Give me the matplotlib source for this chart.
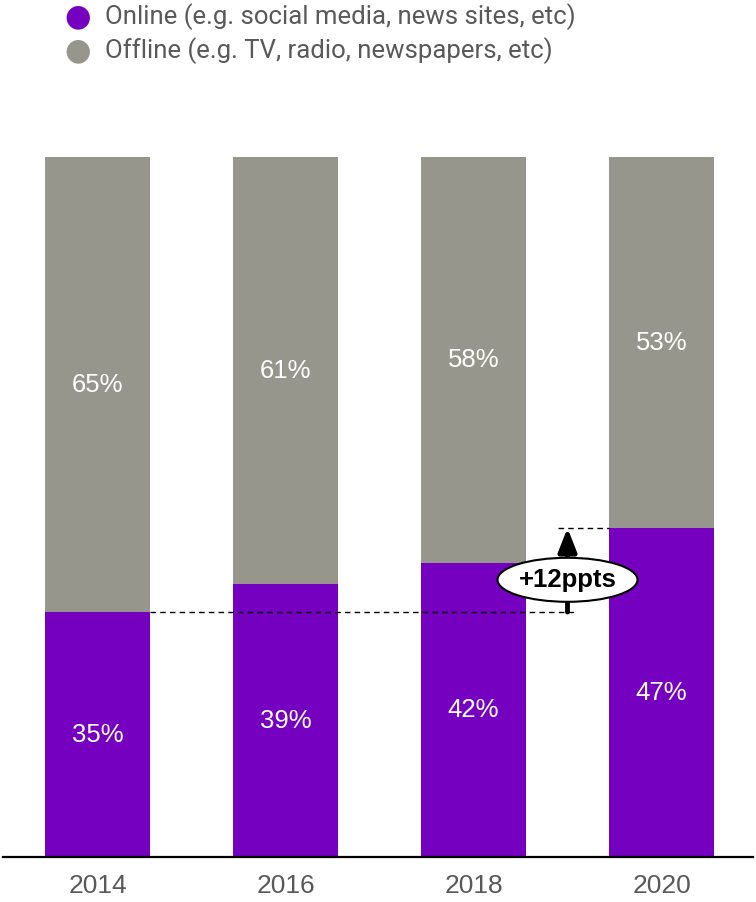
import matplotlib.pyplot as plt
from matplotlib.patches import Ellipse

years = ['2014', '2016', '2018', '2020']
online = [35, 39, 42, 47]
offline = [65, 61, 58, 53]
legend_labels = ['Online (e.g. social media, news sites, etc)',
                 'Offline (e.g. TV, radio, newspapers, etc)']

purple = '#7500C0'
grey = '#96968C'
text_grey = '#595959'

plt.rcParams['font.family'] = ['Liberation Sans', 'DejaVu Sans']

fig = plt.figure(figsize=(7.56, 9.02), dpi=100)
ax = fig.add_axes([3 / 756, 45 / 902, 750 / 756, 700 / 902])

x = list(range(len(years)))
w = 105 / 188
ax.bar(x, online, width=w, color=purple, zorder=2)
ax.bar(x, offline, width=w, bottom=online, color=grey, zorder=2)

for i in x:
    ax.text(i, online[i] / 2, f'{online[i]}%', ha='center', va='center',
            color='white', fontsize=18.5)
    ax.text(i, online[i] + offline[i] / 2, f'{offline[i]}%', ha='center',
            va='center', color='white', fontsize=18.5)

ax.set_xlim((3 - 97.5) / 188, (753 - 97.5) / 188)
ax.set_ylim(0, 100)
ax.set_xticks(x)
ax.set_xticklabels(years, fontsize=19, color=text_grey)
ax.tick_params(axis='x', length=0, pad=12)
ax.set_yticks([])
for s in ['top', 'left', 'right']:
    ax.spines[s].set_visible(False)
ax.spines['bottom'].set_linewidth(1.6)
ax.spines['bottom'].set_color('black')

# change between first and last year
mid = 2.5
ax.plot([w / 2, 2.54], [online[0], online[0]], ls='--', color='black',
        lw=1, dashes=(4, 3), zorder=3)
ax.plot([2.449, 3 - w / 2], [online[-1], online[-1]], ls='--', color='black',
        lw=1, dashes=(4, 3), zorder=3)
ax.annotate('', xy=(mid, online[-1]), xytext=(mid, online[0]),
            arrowprops=dict(arrowstyle='-|>,head_width=0.55,head_length=1.4',
                            color='black', lw=3.5, shrinkA=0, shrinkB=0),
            zorder=4)
ax.add_patch(Ellipse((mid, 39.6), 140 / 188, 44 / 7, facecolor='white',
                     edgecolor='black', lw=1.5, zorder=5))
diff = online[-1] - online[0]
ax.text(mid, 39.6, f'+{diff}ppts', ha='center', va='center', fontsize=18.5,
        fontweight='bold', color='black', zorder=6)

# legend
for k, (lab, col) in enumerate(zip(legend_labels, [purple, grey])):
    yy = 1 - (17 + 34 * k) / 902
    fig.text(78 / 756, yy, '\u25CF', color=col, fontsize=22, ha='center',
             va='center', family='DejaVu Sans')
    fig.text(105 / 756, yy, lab, color=text_grey, fontsize=18.5,
             ha='left', va='center', family='Roboto')

fig.savefig('out.png', dpi=100)
